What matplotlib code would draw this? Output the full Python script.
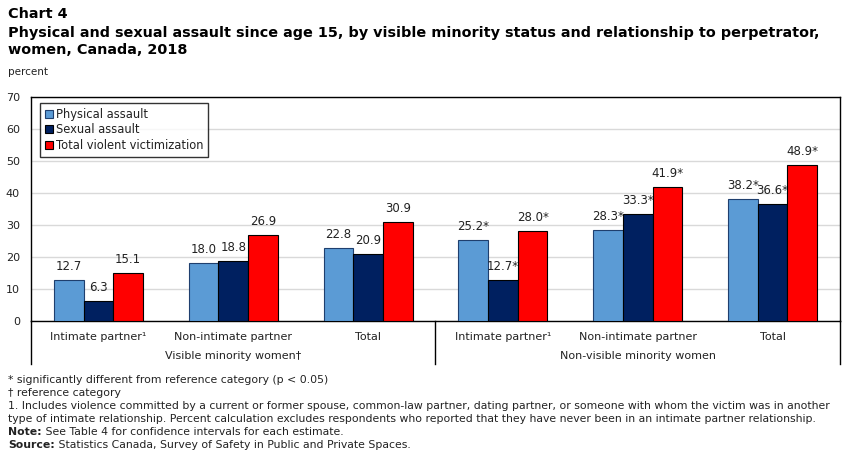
import numpy as np
import matplotlib
matplotlib.use("Agg")
import matplotlib.pyplot as plt
import matplotlib.transforms as mtransforms

categories = ["Intimate partner¹", "Non-intimate partner", "Total",
              "Intimate partner¹", "Non-intimate partner", "Total"]
groups = ["Visible minority women†", "Non-visible minority women"]
series = ["Physical assault", "Sexual assault", "Total violent victimization"]
physical = [12.7, 18.0, 22.8, 25.2, 28.3, 38.2]
sexual = [6.3, 18.8, 20.9, 12.7, 33.3, 36.6]
total = [15.1, 26.9, 30.9, 28.0, 41.9, 48.9]
physical_sig = [False, False, False, True, True, True]
sexual_sig = [False, False, False, True, True, True]
total_sig = [False, False, False, True, True, True]

colors = ["#5b9bd5", "#002060", "#ff0000"]
edges = ["#1f3f6e", "#000000", "#000000"]
txt = "#222222"

plt.rcParams['font.family'] = ['DejaVu Sans']
fig = plt.figure(figsize=(8.52, 4.55), dpi=100)
ax = fig.add_axes([31/852, 1 - 321/455, (840 - 31)/852, 224/455])

x = np.arange(len(categories))
w = 0.22
for i, (vals, sig) in enumerate(zip([physical, sexual, total],
                                    [physical_sig, sexual_sig, total_sig])):
    bars = ax.bar(x + (i - 1) * w, vals, w, color=colors[i], edgecolor=edges[i],
                  linewidth=0.8, label=series[i], zorder=3)
    labels = [f"{v:.1f}" + ("*" if s else "") for v, s in zip(vals, sig)]
    ax.bar_label(bars, labels=labels, padding=5, fontsize=8.5, color=txt)

ax.set_xlim(-0.5, 5.5)
ax.set_ylim(0, 70)
ax.set_yticks(range(0, 71, 10))
ax.yaxis.grid(True, color="#d9d9d9", linewidth=1, zorder=0)
ax.set_axisbelow(True)
ax.tick_params(axis="y", length=0, labelsize=8, colors=txt, pad=8)
ax.set_xticks(x)
ax.set_xticklabels(categories)
ax.tick_params(axis="x", length=0, labelsize=8, colors=txt, pad=8)
for s in ax.spines.values():
    s.set_color("black")
    s.set_linewidth(1)

# group separators and labels below the axis
trans = mtransforms.blended_transform_factory(ax.transData, ax.transAxes)
for xs in [-0.5, 2.5, 5.5]:
    ax.plot([xs, xs], [0, -0.19], transform=trans, color="black", lw=1, clip_on=False)
ax.text(1, -0.155, groups[0], transform=trans, ha="center", va="center", fontsize=8, color=txt)
ax.text(4, -0.155, groups[1], transform=trans, ha="center", va="center", fontsize=8, color=txt)

leg = ax.legend(loc="upper left", bbox_to_anchor=(9/809, 1 - 6/224), fontsize=8.3,
                frameon=True, fancybox=False, edgecolor="black", handlelength=0.7,
                handleheight=0.7, handletextpad=0.3, borderpad=0.4, labelspacing=0.25,
                borderaxespad=0)
leg.get_frame().set_linewidth(1)
for t in leg.get_texts():
    t.set_color(txt)

fig.text(8/852, 1 - 14/455, "Chart 4", fontsize=10.4, fontweight="bold", va="center", color="black")
fig.text(8/852, 1 - 33/455,
         "Physical and sexual assault since age 15, by visible minority status and relationship to perpetrator,",
         fontsize=10.4, fontweight="bold", va="center", color="black")
fig.text(8/852, 1 - 50/455, "women, Canada, 2018", fontsize=10.4, fontweight="bold", va="center", color="black")
fig.text(8/852, 1 - 72/455, "percent", fontsize=7.5, va="center", color=txt)

notes = [
    "* significantly different from reference category (p < 0.05)",
    "† reference category",
    "1. Includes violence committed by a current or former spouse, common-law partner, dating partner, or someone with whom the victim was in another",
    "type of intimate relationship. Percent calculation excludes respondents who reported that they have never been in an intimate partner relationship.",
]
ys = [380, 393, 406, 419]
for line, yy in zip(notes, ys):
    fig.text(8/852, 1 - yy/455, line, fontsize=7.85, va="center", color=txt)

# bold lead-in followed by normal text
renderer = fig.canvas.get_renderer()
for lead, rest, yy in [("Note:", " See Table 4 for confidence intervals for each estimate.", 432),
                       ("Source:", " Statistics Canada, Survey of Safety in Public and Private Spaces.", 445)]:
    t = fig.text(8/852, 1 - yy/455, lead, fontsize=7.85, fontweight="bold", va="center", color=txt)
    bb = t.get_window_extent(renderer=renderer)
    fig.text(bb.x1 / fig.bbox.width, 1 - yy/455, rest, fontsize=7.85, va="center", color=txt)

fig.savefig("out.png", dpi=100)
